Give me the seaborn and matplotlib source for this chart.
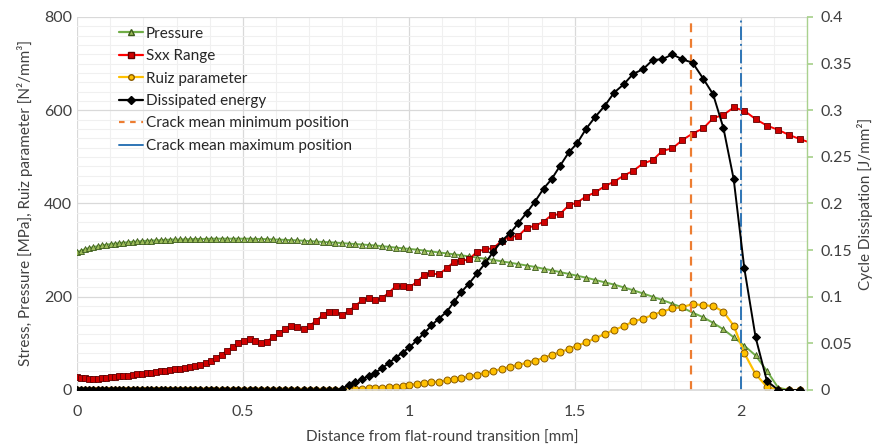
import numpy as np
import pandas as pd
import matplotlib
matplotlib.use("Agg")
import matplotlib.pyplot as plt
from matplotlib.lines import Line2D
from matplotlib.ticker import MultipleLocator, FuncFormatter
import seaborn as sns

# distance from flat-round transition [mm] (shared mesh of all series)
x_mm = [
    0.000, 0.012, 0.024, 0.036, 0.049, 0.062, 0.075, 0.088, 0.101, 0.114,
    0.127, 0.140, 0.154, 0.168, 0.182, 0.196, 0.210, 0.224, 0.238, 0.252,
    0.266, 0.281, 0.296, 0.311, 0.326, 0.341, 0.356, 0.372, 0.388, 0.404,
    0.420, 0.436, 0.452, 0.469, 0.486, 0.503, 0.520, 0.537, 0.555, 0.573,
    0.591, 0.609, 0.627, 0.645, 0.664, 0.683, 0.702, 0.721, 0.740, 0.759,
    0.779, 0.799, 0.819, 0.839, 0.859, 0.879, 0.899, 0.919, 0.940, 0.960,
    0.981, 1.002, 1.024, 1.047, 1.068, 1.090, 1.114, 1.136, 1.158, 1.181,
    1.206, 1.230, 1.254, 1.280, 1.305, 1.330, 1.355, 1.380, 1.406, 1.430,
    1.455, 1.482, 1.507, 1.534, 1.562, 1.590, 1.619, 1.648, 1.676, 1.706,
    1.735, 1.764, 1.794, 1.824, 1.855, 1.887, 1.917, 1.948, 1.979, 2.011,
    2.045, 2.079, 2.113, 2.146, 2.179, 2.212,
]

# contact pressure [MPa]
pressure = [
    295, 299, 302, 304.5, 306.5, 308.5, 310, 311.5, 313, 314,
    315, 316, 317, 318, 318.5, 319.5, 320, 320.5, 321, 321.5,
    322, 322.5, 323, 323, 323.5, 323.5, 324, 324, 324, 324.5,
    324.5, 324.5, 324.5, 324.5, 324.5, 324.5, 324.5, 324, 324, 323.5,
    323, 322.5, 322, 321.5, 321, 320, 319.5, 318.5, 317.5, 317,
    316, 315, 314, 313, 312, 311, 310, 308.5, 307, 305.5,
    304, 302.5, 301, 299, 297, 295, 293, 291, 289, 286.5,
    284, 281.5, 279, 276, 273, 270, 267, 264, 260, 257,
    253, 249, 245, 241, 236, 231, 226, 220, 214, 207,
    200, 193, 185, 177, 166, 156, 144, 130, 113, 95,
    74, 41, 5, 0, 0, np.nan,
]

# Sxx range [MPa]
sxx_range = [
    28, 26, 25, 24.5, 24.5, 24.5, 25, 26, 27, 28,
    29, 30, 31, 32, 33.5, 35, 36, 37, 38.5, 40,
    41.5, 43, 44.5, 46, 47.5, 49, 51, 54, 58, 63,
    69, 76, 84, 92, 100, 106, 109, 105, 101, 104,
    114, 122, 131, 137, 136, 130, 138, 149, 160, 167,
    168, 161, 169, 181, 192, 197, 192, 197, 209, 222,
    224, 220, 232, 247, 250, 248, 261, 275, 277, 280,
    297, 302, 304, 320, 329, 330, 348, 352, 361, 375,
    377, 396, 402, 415, 424, 437, 447, 460, 470, 486,
    493, 513, 518, 536, 550, 561, 583, 590, 606, 599,
    581, 567, 558, 547, 538, 530,
]

# Ruiz parameter [N^2/mm^3]
ruiz = [
    0, 0, 0, 0, 0, 0, 0, 0, 0, 0,
    0, 0, 0, 0, 0, 0, 0, 0, 0, 0,
    0, 0, 0, 0, 0, 0, 0, 0, 0, 0,
    0, 0, 0, 0, 0, 0, 0, 0, 0, 0,
    0, 0, 0, 0, 0, 0, 0, 0, 0, 0,
    0, 0.5, 1.5, 2, 2.5, 3.5, 4, 5, 6, 7.5,
    9, 10.5, 13, 15, 16.5, 18, 20.5, 23, 26, 29,
    33, 37, 41, 45, 50, 54, 58, 63, 69, 75,
    81, 88, 95, 102, 111, 120, 129, 137, 147, 153,
    161, 168, 175, 178, 184, 182, 180, 168, 138, 79,
    34, 7, 0, 0, 0, np.nan,
]

# dissipated energy per cycle [J/mm^2] (secondary axis)
dissipation = [
    0, 0, 0, 0, 0, 0, 0, 0, 0, 0,
    0, 0, 0, 0, 0, 0, 0, 0, 0, 0,
    0, 0, 0, 0, 0, 0, 0, 0, 0, 0,
    0, 0, 0, 0, 0, 0, 0, 0, 0, 0,
    0, 0, 0, 0, 0, 0, 0, 0, 0, 0,
    0, 0.0015, 0.0054, 0.0082, 0.0115, 0.015, 0.0186, 0.0233, 0.029, 0.0345,
    0.040, 0.0458, 0.0532, 0.0612, 0.0692, 0.0765, 0.0838, 0.0945, 0.105, 0.114,
    0.125, 0.136, 0.148, 0.160, 0.168, 0.179, 0.190, 0.202, 0.216, 0.226,
    0.240, 0.2548, 0.2645, 0.280, 0.293, 0.3046, 0.319, 0.328, 0.339, 0.344,
    0.354, 0.3546, 0.360, 0.3546, 0.351, 0.334, 0.317, 0.281, 0.226, 0.1305,
    0.0565, 0.0097, 0, 0, 0, np.nan,
]

crack_min = 1.85
crack_max = 2.0

df = pd.DataFrame({"x": x_mm, "pressure": pressure, "sxx": sxx_range,
                   "ruiz": ruiz, "diss": dissipation})

sns.set_theme(style="white")
plt.rcParams["font.family"] = ["Lato", "DejaVu Sans"]

fig = plt.figure(figsize=(8.72, 4.45), dpi=100)
ax = fig.add_axes([0.0883, 0.1236, 0.8372, 0.8382])

green_line = "#70ad47"
red_line = "#ff0000"
yellow_line = "#ffc000"
text_col = "#404040"

sns.lineplot(data=df, x="x", y="pressure", ax=ax, color=green_line, lw=1.4,
             marker="^", markersize=4.5, markerfacecolor="#9bbb59",
             markeredgecolor="#3a5a1a", markeredgewidth=0.6)
sns.lineplot(data=df, x="x", y="sxx", ax=ax, color=red_line, lw=1.4,
             marker="s", markersize=4, markerfacecolor="#d00000",
             markeredgecolor="#600000", markeredgewidth=0.6)
sns.lineplot(data=df, x="x", y="ruiz", ax=ax, color=yellow_line, lw=1.6,
             marker="o", markersize=5, markerfacecolor="#ffc000",
             markeredgecolor="#8a5a00", markeredgewidth=0.7)
ax.axvline(crack_min, color="#ed7d31", lw=1.6, ls=(0, (4, 3)))
ax.axvline(crack_max, color="#2e75b6", lw=1.4, ls=(0, (7, 2, 1, 2)))

ax.set_xlim(0, 2.2)
ax.set_ylim(0, 800)
ax.xaxis.set_major_locator(MultipleLocator(0.5))
ax.xaxis.set_minor_locator(MultipleLocator(0.1))
ax.yaxis.set_major_locator(MultipleLocator(200))
ax.yaxis.set_minor_locator(MultipleLocator(20))
ax.xaxis.set_major_formatter(FuncFormatter(lambda v, p: f"{v:g}"))
ax.grid(which="major", color="#d9d9d9", lw=0.9)
ax.grid(which="minor", color="#f0f0f0", lw=0.8)
ax.set_axisbelow(True)
ax.tick_params(axis="both", which="both", length=0, labelsize=11.5, colors=text_col)
ax.tick_params(axis="x", pad=11)
for s in ["left", "top", "right"]:
    ax.spines[s].set_visible(False)
ax.spines["bottom"].set_color("#d9d9d9")
ax.set_xlabel("Distance from flat-round transition [mm]", fontsize=11, color=text_col,
              labelpad=8)
ax.set_ylabel("Stress, Pressure [MPa], Ruiz parameter [N²/mm³]", fontsize=11,
              color=text_col, labelpad=8)

ax2 = ax.twinx()
sns.lineplot(data=df, x="x", y="diss", ax=ax2, color="black", lw=1.4,
             marker="D", markersize=4, markerfacecolor="black",
             markeredgecolor="black")
ax2.set_ylim(0, 0.4)
ax2.yaxis.set_major_locator(MultipleLocator(0.05))
ax2.yaxis.set_major_formatter(FuncFormatter(lambda v, p: f"{v:g}"))
for s in ["left", "top", "bottom"]:
    ax2.spines[s].set_visible(False)
ax2.spines["right"].set_color("#a9d18e")
ax2.spines["right"].set_linewidth(1.0)
ax2.tick_params(axis="y", length=4, color="#a9d18e", labelsize=11.5,
                labelcolor=text_col, pad=6)
ax2.set_xlabel("")
ax2.set_ylabel("Cycle Dissipation [J/mm²]", fontsize=11, color=text_col, labelpad=3)

handles = [
    Line2D([], [], color=green_line, marker="^", markersize=4,
           markerfacecolor="#9bbb59", markeredgecolor="#3a5a1a", lw=1.6),
    Line2D([], [], color=red_line, marker="s", markersize=4,
           markerfacecolor="#d00000", markeredgecolor="#600000", lw=1.6),
    Line2D([], [], color=yellow_line, marker="o", markersize=4,
           markerfacecolor="#ffc000", markeredgecolor="#8a5a00", lw=1.6),
    Line2D([], [], color="black", marker="D", markersize=4, lw=1.6),
    Line2D([], [], color="#ed7d31", lw=1.6, ls=(0, (2.5, 2.5))),
    Line2D([], [], color="#2e75b6", lw=1.4),
]
labels = ["Pressure", "Sxx Range", "Ruiz parameter", "Dissipated energy",
          "Crack mean minimum position", "Crack mean maximum position"]
leg = ax2.legend(handles, labels, loc="upper left", bbox_to_anchor=(0.049, 0.99),
                 frameon=False, fontsize=11, handlelength=1.6, handletextpad=0.15,
                 labelspacing=0.55, borderaxespad=0)
for t in leg.get_texts():
    t.set_color("#262626")

fig.savefig("out.png", dpi=100)
